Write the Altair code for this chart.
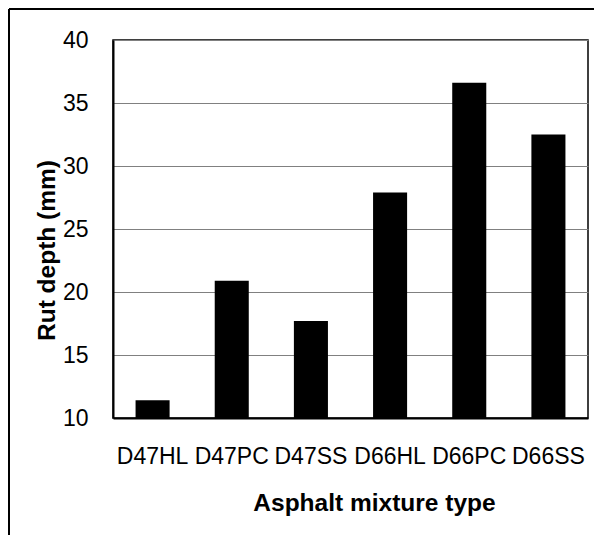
import altair as alt
import pandas as pd

mixtures = ["D47HL", "D47PC", "D47SS", "D66HL", "D66PC", "D66SS"]
rut_depth = [11.4, 20.9, 17.7, 27.9, 36.6, 32.5]

df = pd.DataFrame({"mixture": mixtures, "rut": rut_depth})

W, H = 475, 378
PL, PT, PR, PB = 105, 32, 6, 117

bars = alt.Chart(df).mark_bar(color="black", clip=True).encode(
    x=alt.X("mixture:N", sort=mixtures,
            scale=alt.Scale(paddingInner=0.57, paddingOuter=0.285),
            axis=alt.Axis(title="Asphalt mixture type", labelAngle=0, ticks=False,
                          labelPadding=27, labelFontSize=23, labelColor="black",
                          labelFont="Liberation Sans", titleFont="Liberation Sans",
                          titleFontSize=24.5, titleFontWeight="bold", titleColor="black",
                          titleX=261, titleY=92, titleBaseline="alphabetic",
                          domainColor="black", domainWidth=2, grid=False)),
    y=alt.Y("rut:Q", scale=alt.Scale(domain=[10, 40], zero=False, nice=False),
            axis=alt.Axis(title="Rut depth (mm)", values=[10, 15, 20, 25, 30, 35, 40],
                          ticks=False, labelPadding=25, labelFontSize=23, labelColor="black",
                          labelFont="Liberation Sans", titleFont="Liberation Sans",
                          titleFontSize=24.5, titleFontWeight="bold", titleColor="black",
                          titleX=-66, titleY=210, titleBaseline="middle", titleAlign="center",
                          domainColor="black", domainWidth=2,
                          grid=True, gridColor="#808080", gridWidth=1.2)),
)

frame_left = alt.Chart(df).mark_rule(color="black", strokeWidth=2, clip=False).encode(
    x=alt.value(-PL + 1), y=alt.value(-PT + 1), y2=alt.value(H + PB)
)
frame_top = alt.Chart(df).mark_rule(color="black", strokeWidth=2, clip=False).encode(
    x=alt.value(-PL + 1), x2=alt.value(W + PR), y=alt.value(-PT + 1)
)

chart = alt.layer(bars, frame_left, frame_top).properties(
    width=W, height=H,
    autosize=alt.AutoSizeParams(type="none"),
    padding={"left": PL, "top": PT, "right": PR, "bottom": PB},
).configure_view(stroke="black", strokeWidth=1.5)

chart.save("out.html", embed_options={"renderer": "svg", "actions": False})
